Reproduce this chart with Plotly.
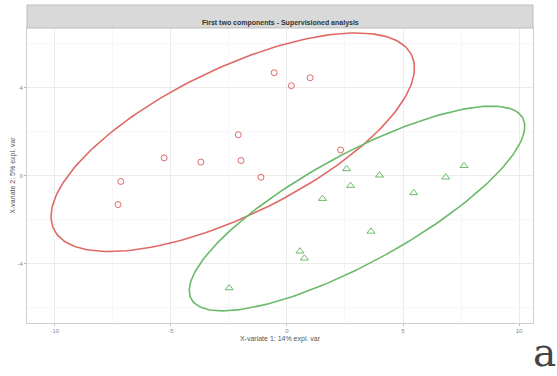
import numpy as np
import plotly.graph_objects as go

# Data
red_x = [-0.55, 0.19, 1.00, -2.10, -5.29, -3.71, -1.98, -1.12, -7.16, -7.28, 2.31]
red_y = [4.67, 4.08, 4.44, 1.85, 0.80, 0.61, 0.68, -0.08, -0.27, -1.32, 1.16]
green_x = [2.57, 3.99, 2.74, 1.53, 5.46, 6.84, 7.63, 3.62, 0.56, 0.75, -2.49]
green_y = [0.30, 0.01, -0.46, -1.05, -0.79, -0.08, 0.44, -2.54, -3.44, -3.76, -5.11]
x_ticks = [-10, -5, 0, 5, 10]
y_ticks = [-4, 0, 4]
title = "First two components - Supervisioned analysis"
x_title = "X-variate 1: 14% expl. var"
y_title = "X-variate 2: 5% expl. var"

RED = "#DF6A64"
GREEN = "#6BB96B"


def conf_ellipse(x, y, level=0.95, n=200):
    x = np.asarray(x); y = np.asarray(y)
    c = np.cov(np.vstack([x, y]))
    t = np.sqrt(-2 * np.log(1 - level))
    vals, vecs = np.linalg.eigh(c)
    th = np.linspace(0, 2 * np.pi, n)
    circ = np.vstack([np.cos(th), np.sin(th)])
    pts = vecs @ (np.sqrt(vals)[:, None] * circ) * t
    return pts[0] + x.mean(), pts[1] + y.mean()


fig = go.Figure()
for xs, ys, col in [(red_x, red_y, RED), (green_x, green_y, GREEN)]:
    ex, ey = conf_ellipse(xs, ys)
    fig.add_trace(go.Scatter(x=ex, y=ey, mode="lines", line=dict(color=col, width=1.6),
                             hoverinfo="skip", showlegend=False))
fig.add_trace(go.Scatter(x=red_x, y=red_y, mode="markers",
                         marker=dict(symbol="circle-open", size=6, color=RED, line=dict(width=1)),
                         showlegend=False))
fig.add_trace(go.Scatter(x=green_x, y=green_y, mode="markers",
                         marker=dict(symbol="triangle-up-open", size=7, color=GREEN, line=dict(width=1)),
                         showlegend=False))

axis_common = dict(showline=True, linecolor="#d0d0d0", linewidth=1, mirror=True,
                   gridcolor="#ececec", gridwidth=1, zeroline=False, automargin=False,
                   ticks="outside", ticklen=2, tickcolor="#bbbbbb",
                   tickfont=dict(size=6, color="#888888", family="Liberation Sans"),
                   minor=dict(showgrid=True, gridcolor="#f6f6f6", gridwidth=1))

fig.update_xaxes(range=[-11.2, 10.6], tickvals=x_ticks, ticktext=[str(v) for v in x_ticks],
                 title=dict(text=x_title, font=dict(size=7, color="#555555", family="Liberation Sans"), standoff=2),
                 minor_tickvals=[-7.5, -2.5, 2.5, 7.5], **axis_common)
fig.update_yaxes(range=[-6.7, 6.7], tickvals=y_ticks, ticktext=[str(v) for v in y_ticks],
                 title=dict(text=y_title, font=dict(size=7, color="#555555", family="Liberation Sans"), standoff=1),
                 minor_tickvals=[-6, -2, 2, 6], **axis_common)

L, R, T, B = 27, 24, 28, 53
H = 376 - T - B
strip_h = 23 / H
fig.add_shape(type="rect", xref="paper", yref="paper", x0=0, x1=1, y0=1, y1=1 + strip_h,
              fillcolor="#d9d9d9", line=dict(color="#bdbdbd", width=1))
fig.add_annotation(xref="paper", yref="paper", x=0.5, y=1 + strip_h / 2, text="<b>" + title + "</b>",
                   showarrow=False, font=dict(size=7, color="#333333", family="Liberation Sans"))
fig.add_annotation(xref="paper", yref="paper", x=(544 - L) / (557 - L - R), y=-(377 - (376 - B)) / H,
                   xanchor="center", yanchor="bottom",
                   text="a", showarrow=False,
                   font=dict(size=39, color="#444444", family="DejaVu Serif"))

fig.update_layout(width=557, height=376, margin=dict(l=L, r=R, t=T, b=B),
                  paper_bgcolor="white", plot_bgcolor="white")
fig.write_html("out.html", config={"displayModeBar": False},
               post_script="document.body.style.margin='0';")
